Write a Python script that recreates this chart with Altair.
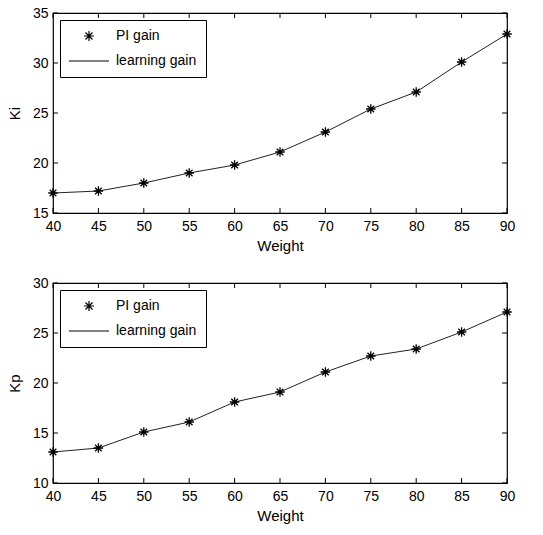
import altair as alt
import pandas as pd

weight = [40, 45, 50, 55, 60, 65, 70, 75, 80, 85, 90]
ki_values = [17.0, 17.2, 18.0, 19.0, 19.8, 21.1, 23.1, 25.4, 27.1, 30.1, 32.9]
kp_values = [13.1, 13.5, 15.1, 16.1, 18.1, 19.1, 21.1, 22.7, 23.4, 25.1, 27.1]
x_ticks = [40, 45, 50, 55, 60, 65, 70, 75, 80, 85, 90]
ki_ticks = [15, 20, 25, 30, 35]
kp_ticks = [10, 15, 20, 25, 30]
series_names = ["PI gain", "learning gain"]

FONT = "Liberation Sans"
W, H = 454, 200
TICK = 5
STAR = "M-1,0L1,0M0,-1L0,1M-0.7,-0.7L0.7,0.7M-0.7,0.7L0.7,-0.7"
LINE = "M-4,0L4,0"


def panel(values, yticks, ytitle):
    df = pd.DataFrame({"Weight": weight, "v": values, "series": "PI gain"})
    xs = alt.Scale(domain=[x_ticks[0], x_ticks[-1]], nice=False, zero=False)
    ys = alt.Scale(domain=[yticks[0], yticks[-1]], nice=False, zero=False)
    xaxis = alt.Axis(values=x_ticks, title="Weight", labelFontSize=14, titleFontSize=15,
                     labelPadding=6, titlePadding=5, labelFlush=False)
    yaxis = alt.Axis(values=yticks, title=ytitle, labelFontSize=14, titleFontSize=15,
                     labelPadding=5, titlePadding=10)

    line = alt.Chart(df).mark_line(color="#222222", strokeWidth=1).encode(
        x=alt.X("Weight:Q", scale=xs, axis=xaxis),
        y=alt.Y("v:Q", scale=ys, axis=yaxis),
    )
    pts = alt.Chart(df).mark_point(filled=False, color="black", strokeWidth=1.3, size=90, opacity=1).encode(
        x=alt.X("Weight:Q", scale=xs),
        y=alt.Y("v:Q", scale=ys),
        shape=alt.Shape(
            "series:N",
            scale=alt.Scale(domain=series_names, range=[STAR, LINE]),
            legend=alt.Legend(
                title=None, orient="top-left", offset=7,
                strokeColor="black", fillColor="white", padding=9,
                symbolOffset=13, labelOffset=20, rowPadding=10,
                symbolSize=100, symbolStrokeColor="black", symbolStrokeWidth=1.2,
                symbolFillColor="transparent",
                labelFontSize=14, labelFont=FONT, labelColor="black",
            ),
        ),
    )
    xt = pd.DataFrame({"t": x_ticks})
    yt = pd.DataFrame({"t": yticks})
    top_t = alt.Chart(xt).mark_rule(color="black").encode(
        x=alt.X("t:Q", scale=xs), y=alt.value(0), y2=alt.value(TICK))
    bot_t = alt.Chart(xt).mark_rule(color="black").encode(
        x=alt.X("t:Q", scale=xs), y=alt.value(H), y2=alt.value(H - TICK))
    left_t = alt.Chart(yt).mark_rule(color="black").encode(
        y=alt.Y("t:Q", scale=ys), x=alt.value(0), x2=alt.value(TICK))
    right_t = alt.Chart(yt).mark_rule(color="black").encode(
        y=alt.Y("t:Q", scale=ys), x=alt.value(W), x2=alt.value(W - TICK))
    return alt.layer(top_t, bot_t, left_t, right_t, line, pts).properties(width=W, height=H)


chart = alt.vconcat(
    panel(ki_values, ki_ticks, "Ki"),
    panel(kp_values, kp_ticks, "Kp"),
    spacing=21,
).resolve_scale(shape="independent").properties(
    padding={"left": 6, "top": 5, "right": 10, "bottom": 5},
    background="white",
).configure_view(stroke="black", strokeWidth=1.2).configure_axis(
    domain=False, ticks=False, grid=False, labelFont=FONT, titleFont=FONT,
    labelColor="black", titleColor="black", titleFontWeight="normal",
)

chart.save("out.html", embed_options={"renderer": "svg", "actions": False})
